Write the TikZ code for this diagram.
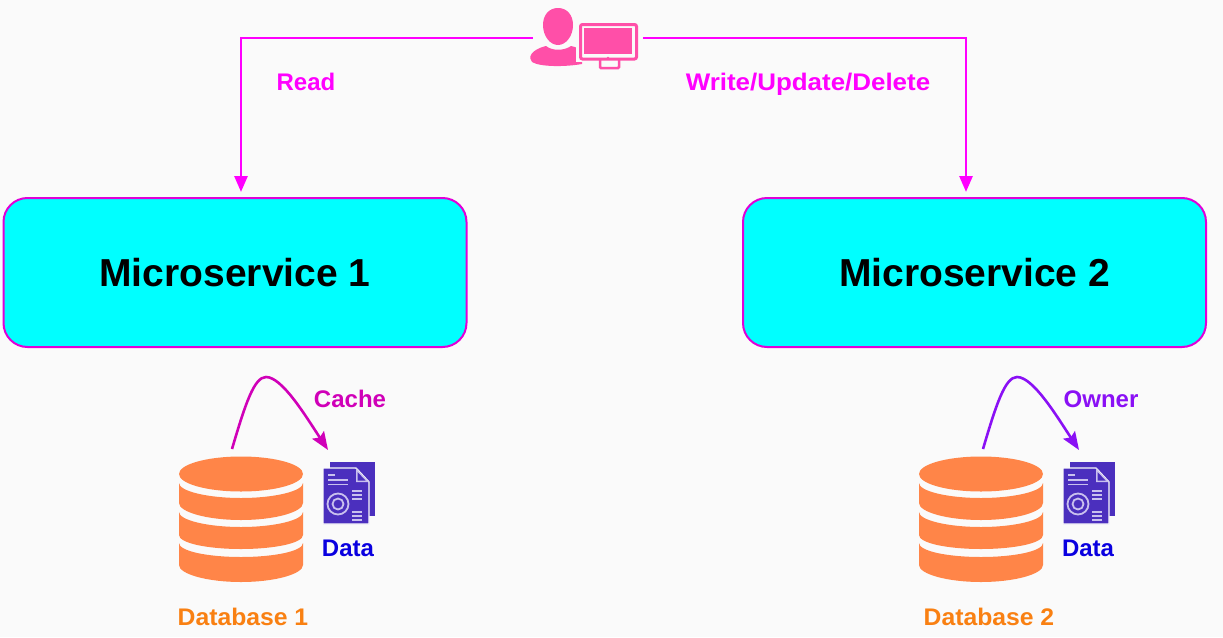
\documentclass[tikz,border=0pt]{standalone}
\usepackage{fontspec}
\setmainfont{Liberation Sans}
\usetikzlibrary{arrows.meta,positioning}
\definecolor{bgc}{HTML}{FAFAFA}
\definecolor{mag}{HTML}{FF00FF}
\definecolor{boxline}{HTML}{E000D8}
\definecolor{cyanbox}{HTML}{00FFFF}
\definecolor{cachec}{HTML}{D000B8}
\definecolor{ownerc}{HTML}{8A10F5}
\definecolor{datac}{HTML}{0A00E0}
\definecolor{dbtext}{HTML}{F98012}
\definecolor{dbfill}{HTML}{FF8548}
\definecolor{pinkc}{HTML}{FF4FA8}
\definecolor{docc}{HTML}{4B2FBE}
\definecolor{docl}{HTML}{C9C0EE}
\tikzset{
  msbox/.style={draw=boxline,line width=2pt,fill=cyanbox,rounded corners=24pt,minimum width=463pt,minimum height=149pt,inner sep=0pt,font=\fontsize{39}{43}\selectfont\bfseries,text=black},
  lbl/.style={inner sep=0pt,anchor=base,font=\fontsize{24}{28}\selectfont\bfseries},
  flow/.style={draw=mag,line width=2.8pt,-{Triangle[length=16pt,width=13pt]}},
  hop/.style={line width=2.6pt,-{Stealth[length=18pt,width=14pt,inset=3pt]}},
  holder/.style={inner sep=0pt,minimum width=#1,minimum height=#1},
  dbicon/.pic={
    \fill[dbfill] (-62,-45) arc[x radius=62,y radius=17.5,start angle=180,end angle=-180] -- cycle;
    \fill[dbfill] (-62,-36) .. controls (-62,-28) and (-34,-21) .. (0,-21) .. controls (34,-21) and (62,-28) .. (62,-36) -- (62,-16) .. controls (62,-7) and (34,1) .. (0,1) .. controls (-34,1) and (-62,-7) .. (-62,-16) -- cycle;
    \fill[dbfill] (-62,-7) .. controls (-62,1) and (-34,8) .. (0,8) .. controls (34,8) and (62,1) .. (62,-7) -- (62,16) .. controls (62,24) and (34,30) .. (0,30) .. controls (-34,30) and (-62,24) .. (-62,16) -- cycle;
    \fill[dbfill] (-62,24) .. controls (-62,32) and (-34,38) .. (0,38) .. controls (34,38) and (62,32) .. (62,24) -- (62,46) .. controls (62,55) and (34,63) .. (0,63) .. controls (-34,63) and (-62,55) .. (-62,46) -- cycle;
  },
  docicon/.pic={
    \fill[docc] (6,-5) rectangle (51,49);
    \draw[bgc,line width=1.4pt,fill=docc] (-1,1) -- (32,1) -- (45,15) -- (45,57) -- (-1,57) -- cycle;
    \fill[docl] (32,1) -- (32,15) -- (45,15) -- cycle;
    \fill[docc] (33.5,5) -- (33.5,13.5) -- (41.5,13.5) -- cycle;
    \draw[docl,line width=1.7pt] (4,8) -- (11,8) (4,13) -- (24,13) (4,17.5) -- (24,17.5) (28,24) -- (38,24) (28,28) -- (38,28) (28,32) -- (38,32) (28,45) -- (38,45) (28,49) -- (38,49) (28,53) -- (38,53);
    \draw[docl,line width=1.8pt] (14,37) circle (10.5) (14,37) circle (5.5);
  }
}
\begin{document}
\begin{tikzpicture}[x=1pt,y=-1pt]
\useasboundingbox (0,0) rectangle (1223,637);
\fill[bgc] (0,0) rectangle (1223,637);
% user and monitor icon
\node[inner sep=0pt,minimum width=110pt,minimum height=70pt] (user) at (588,38) {};
\fill[pinkc] (558,8) .. controls (567,8) and (573,15) .. (573,25) .. controls (573,36) and (566,45) .. (558,45) .. controls (550,45) and (543,36) .. (543,25) .. controls (543,15) and (549,8) .. (558,8) -- cycle;
\fill[pinkc] (546,46) .. controls (552,51) and (564,51) .. (571,46) .. controls (576,47) and (580,49) .. (582,51) -- (582,64) .. controls (565,67) and (540,67) .. (532,62) .. controls (528,58) and (530,50) .. (546,46) -- cycle;
\fill[bgc] (576,20) rectangle (641,62);
\draw[pinkc,line width=3pt,rounded corners=2pt] (580.5,24.5) rectangle (636.5,59);
\fill[pinkc] (584,28) rectangle (632,54);
\draw[pinkc,line width=2.5pt,rounded corners=1pt] (600,60) -- (600,68) -- (619,68) -- (619,60);
\fill[pinkc] (608,58) circle (1.4);
% service boxes
\node[msbox] (ms1) at (235,272.5) {Microservice 1};
\node[msbox] (ms2) at (974.5,272.5) {Microservice 2};
% connectors
\draw[flow,shorten >=5pt] (user.west) -| (ms1.north -| 241,198);
\draw[flow,shorten >=5pt] (user.east) -| (ms2.north -| 966,198);
\node[lbl,text=mag] (read) at (306,90) {Read};
\node[lbl,text=mag] (write) at (808,90) {\addfontfeature{FakeStretch=1.08}Write/Update/Delete};
% databases
\node[holder=124pt] (db1) at (241,519) {};
\node[holder=124pt] (db2) at (981,519) {};
\pic at (db1.center) {dbicon};
\pic at (db2.center) {dbicon};
\pic at (324,467) {docicon};
\pic at (1064,467) {docicon};
\node[holder=46pt] (doc1) at (349,492) {};
\node[holder=46pt] (doc2) at (1089,492) {};
\coordinate (s1) at (232,449);
\coordinate (e1) at (328,450);
\coordinate (s2) at (983,449);
\coordinate (e2) at (1079,450);
\draw[hop,draw=cachec] (s1) .. controls (245,405) and (254,377) .. (266,377) .. controls (282,377) and (305,415) .. (e1);
\draw[hop,draw=ownerc] (s2) .. controls (996,405) and (1005,377) .. (1017,377) .. controls (1033,377) and (1056,415) .. (e2);
\node[lbl,text=cachec] (cache) at (350,407) {Cache};
\node[lbl,text=ownerc] (owner) at (1101,407) {Owner};
\node[lbl,text=datac] (data1) at (348,556) {Data};
\node[lbl,text=datac] (data2) at (1088,556) {Data};
\node[lbl,text=dbtext] (dbl1) at (243,625) {\addfontfeature{FakeStretch=1.03}Database 1};
\node[lbl,text=dbtext] (dbl2) at (989,625) {\addfontfeature{FakeStretch=1.03}Database 2};
\end{tikzpicture}
\end{document}
